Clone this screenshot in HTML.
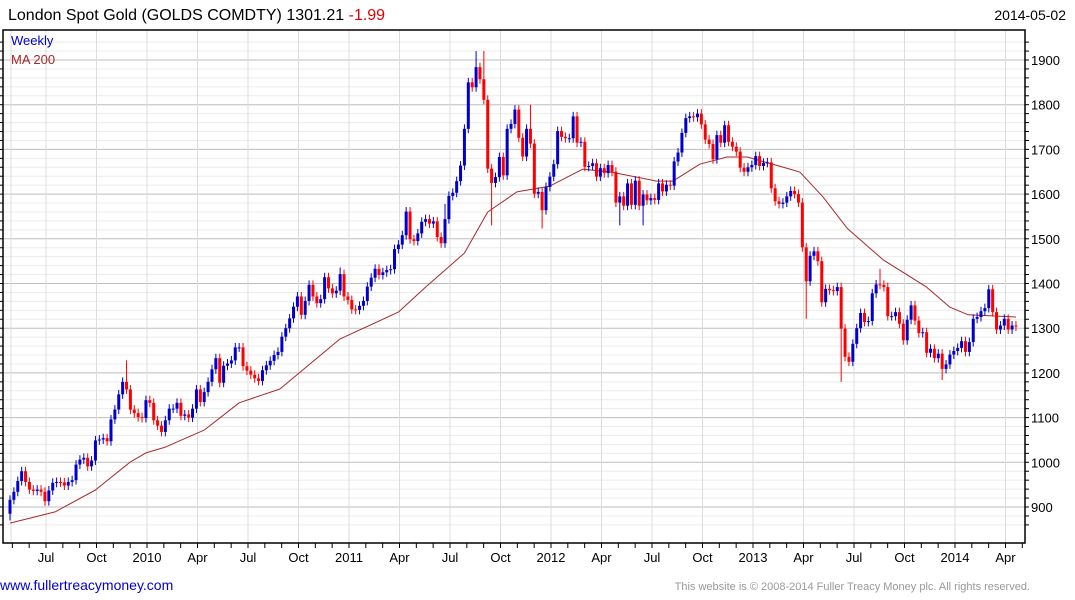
<!DOCTYPE html>
<html><head><meta charset="utf-8">
<style>
body{margin:0;background:#fff;width:1075px;height:600px;overflow:hidden;font-family:"Liberation Sans",Arial,sans-serif;}
svg{display:block}
</style></head>
<body>
<svg id="chart" width="1075" height="600" viewBox="0 0 1075 600" xmlns="http://www.w3.org/2000/svg" font-family="Liberation Sans, Arial, sans-serif">
<text x="8" y="20" font-size="16" fill="#000">London Spot Gold (GOLDS COMDTY) 1301.21 <tspan fill="#e00000">-1.99</tspan></text>
<text x="1066" y="20" font-size="14" fill="#000" text-anchor="end">2014-05-02</text>
<g id="grid"></g>
<g id="ma"></g>
<g id="candles"></g>
<g id="axes"></g>
<text x="11" y="45" font-size="13" fill="#0000cc">Weekly</text>
<text x="11" y="64" font-size="13" fill="#a52a2a">MA 200</text>
<text x="0" y="590" font-size="14" fill="#0000cc">www.fullertreacymoney.com</text>
<text x="1030" y="590" font-size="11" fill="#999" text-anchor="end">This website is © 2008-2014 Fuller Treacy Money plc. All rights reserved.</text>
</svg>
<script>
const closes=[916,934,958,980,956,939,936,939,934,913,937,954,956,955,948,956,960,995,1006,1010,991,1004,1049,1051,1054,1047,1096,1118,1152,1180,1163,1118,1110,1101,1099,1139,1133,1094,1082,1068,1094,1120,1120,1133,1104,1107,1100,1120,1163,1135,1157,1180,1208,1233,1178,1216,1221,1228,1257,1257,1215,1205,1196,1188,1182,1206,1217,1227,1240,1247,
1281,1300,1322,1348,1371,1330,1361,1397,1371,1356,1365,1414,1389,1378,1384,1421,1371,1363,1342,1341,1350,1361,1393,1413,1433,1419,1425,1430,1432,1477,1487,1508,1561,1499,1495,1512,1538,1544,1534,1539,1504,1490,1544,1596,1603,1629,1664,1746,1850,1839,1884,1857,1811,1657,1625,1638,1683,1642,1746,1757,1789,1726,1684,1746,1713,1601,1605,1564,1616,
1639,1667,1741,1728,1725,1725,1774,1715,1717,1661,1663,1669,1639,1658,1647,1665,1650,1581,1595,1574,1624,1576,1630,1574,1599,1586,1591,1587,1624,1606,1621,1619,1673,1693,1737,1770,1774,1772,1780,1756,1722,1712,1678,1732,1715,1754,1717,1706,1695,1659,1650,1660,1665,1685,1663,1670,1671,1613,1584,1578,1581,1595,
1607,1600,1581,1481,1405,1462,1472,1450,1358,1388,1385,1383,1392,1299,1236,1225,1265,1300,1334,1314,1316,1378,1398,1397,1392,1327,1327,1336,1310,1273,1319,1351,1317,1289,1291,1245,1254,1233,1243,1209,1219,1241,1249,1256,1271,1247,1269,1321,1325,1338,1345,1387,1336,1297,1306,1321,1297,1306,1304];
const firstOpen=885;
const defaultWick=10;
const highIdx=[30,120,122,134,224,253,85,112];
const highVal=[1228,1920,1920,1800,1433,1393,1436,1578];
const lowIdx=[124,137,205,214,240,0,157,163];
const lowVal=[1530,1523,1321,1180,1184,870,1530,1530];
const maWeek=[0,11.6,22,31,35,40,50,59,69.5,85,100,107,117,123,130.5,139,147.5,155,166.5,170.7,177.6,184.6,189.8,200.8,203.4,209.3,215.5,224.8,236,242,246.7,259];
const maVal=[864,889,938,1001,1021,1034,1072,1133,1164,1276,1336,1392,1468,1560,1605,1618,1656,1649,1629,1629,1667,1683,1683,1656,1649,1594,1524,1453,1392,1347,1330,1325];
const yTicks=[900,1000,1100,1200,1300,1400,1500,1600,1700,1800,1900];
const xLabels=["Jul","Oct","2010","Apr","Jul","Oct","2011","Apr","Jul","Oct","2012","Apr","Jul","Oct","2013","Apr","Jul","Oct","2014","Apr"];

const NS="http://www.w3.org/2000/svg";
const L=3,R=1025,T=30,B=543;
function yScale(v){return 60+(1900-v)*0.447;}
function xScale(i){return 10+i*3.884;}
function qX(k){return 46+50.5*k;}
function mk(tag,attrs,parent){const e=document.createElementNS(NS,tag);for(const k in attrs)e.setAttribute(k,attrs[k]);parent.appendChild(e);return e;}
const grid=document.getElementById('grid'),axes=document.getElementById('axes'),cg=document.getElementById('candles'),mg=document.getElementById('ma');

for(let v=860;v<=1940;v+=20){const y=yScale(v);if(y<T||y>B)continue;
 const major=v%100===0;
 const ln=mk('line',{x1:L,x2:R,y1:y,y2:y,stroke:major?'#bdbdbd':'#ececec','stroke-width':1},grid);
 
 
 const t=mk('line',{x1:R,x2:R+4,y1:y,y2:y,stroke:'#000'},axes);
 
 
 const t2=mk('line',{x1:L-3,x2:L,y1:y,y2:y,stroke:'#000'},axes);
 
 
}
yTicks.forEach(v=>{const tx=mk('text',{x:1031,y:yScale(v)+5,'font-size':13,fill:'#000'},axes);tx.textContent=v;
 
 });
const vg=mk('line',{x1:11,x2:11,y1:T,y2:B,stroke:'#dcdcdc'},grid);


xLabels.forEach((lab,k)=>{const x=qX(k);
 const g=mk('line',{x1:x,x2:x,y1:T,y2:B,stroke:'#dcdcdc'},grid);
 
 
 const tx=mk('text',{x:x,y:562,'font-size':13,fill:'#000','text-anchor':'middle'},axes);tx.textContent=lab;
 
 });
for(let m=-2;m<=58;m++){const x=46+16.833*m;if(x<L||x>R)continue;
 const t=mk('line',{x1:x,x2:x,y1:B,y2:B+5,stroke:'#000'},axes);
 
 }
const frame=mk('rect',{x:L,y:T,width:R-L,height:B-T,fill:'none',stroke:'#000','stroke-width':1.5},axes);



const pts=maWeek.map((w,i)=>xScale(w).toFixed(1)+','+yScale(maVal[i]).toFixed(1)).join(' ');
const pl=mk('polyline',{points:pts,fill:'none',stroke:'#a52a2a','stroke-width':1,'stroke-linejoin':'round'},mg);



closes.forEach((c,i)=>{const o=i===0?firstOpen:closes[i-1];
 let hi=Math.max(o,c)+defaultWick, lo=Math.min(o,c)-defaultWick;
 const hj=highIdx.indexOf(i); if(hj>=0) hi=Math.max(hi,highVal[hj]);
 const lj=lowIdx.indexOf(i); if(lj>=0) lo=Math.min(lo,lowVal[lj]);
 const col=c>=o?'#0000cc':'#ff0000';const x=xScale(i);
 const g=mk('g',{},cg);
 
 
 mk('line',{x1:x,x2:x,y1:yScale(hi),y2:yScale(lo),stroke:col,'stroke-width':1},g);
 const yt=yScale(Math.max(o,c)),yb=yScale(Math.min(o,c));
 mk('rect',{x:x-1.5,y:yt,width:3,height:Math.max(1,yb-yt),fill:col},g);
});
</script>
</body></html>
